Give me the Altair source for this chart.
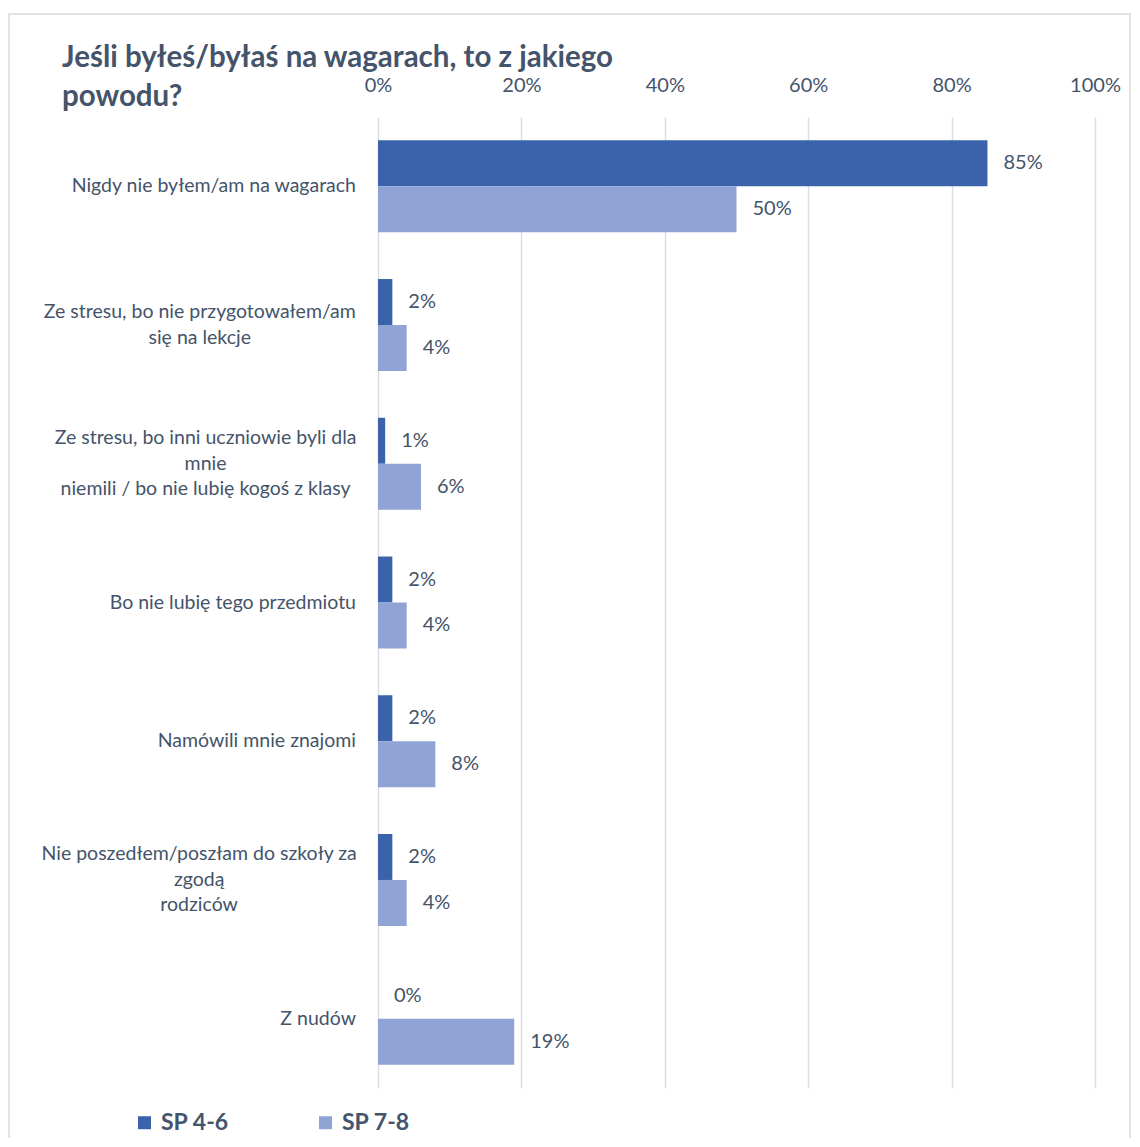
import altair as alt
import pandas as pd

categories = [
    "Nigdy nie byłem/am na wagarach",
    "Ze stresu, bo nie przygotowałem/am\nsię na lekcje",
    "Ze stresu, bo inni uczniowie byli dla\nmnie\nniemili / bo nie lubię kogoś z klasy",
    "Bo nie lubię tego przedmiotu",
    "Namówili mnie znajomi",
    "Nie poszedłem/poszłam do szkoły za\nzgodą\nrodziców",
    "Z nudów",
]
series = ["SP 4-6", "SP 7-8"]
sp46 = [85, 2, 1, 2, 2, 2, 0]
sp78 = [50, 4, 6, 4, 8, 4, 19]
ticks = [0, 20, 40, 60, 80, 100]
title_text = "Jeśli byłeś/byłaś na wagarach, to z jakiego\npowodu?"

colors = ["#3B63AB", "#8FA3D4"]
text_color = "#44546A"
FONT = "Lato"
LABEL_SIZE = 19.5
LINE_H = 25.5
LABEL_RIGHT = -22

# rough advance widths (em) of Lato Regular, used only to centre wrapped labels
_W = {" ": .193, "a": .49, "ą": .49, "b": .55, "c": .44, "d": .55, "e": .51, "ę": .51,
      "f": .32, "g": .49, "h": .55, "i": .24, "j": .24, "k": .50, "l": .24, "ł": .27,
      "m": .83, "n": .55, "o": .55, "ó": .55, "p": .55, "r": .36, "s": .41, "ś": .41,
      "t": .35, "u": .55, "w": .76, "y": .50, "z": .44, "/": .36, ",": .21, "Z": .60,
      "N": .73}


def est_width(s):
    return sum(_W.get(ch, .52) for ch in s) * LABEL_SIZE * 1.04


rows = []
for c, a, b in zip(categories, sp46, sp78):
    rows.append({"cat": c, "series": series[0], "value": a})
    rows.append({"cat": c, "series": series[1], "value": b})
df = pd.DataFrame(rows)

lab = pd.DataFrame({
    "cat": categories,
    "maxw": [max(est_width(s) for s in c.split("\n")) for c in categories],
    "nlines": [len(c.split("\n")) for c in categories],
})

yscale = alt.Scale(domain=categories, paddingInner=0.337, paddingOuter=0.168)
y = alt.Y("cat:N", sort=categories, scale=yscale, axis=None)
yoff = alt.YOffset("series:N", sort=series, scale=alt.Scale(domain=series, paddingInner=0, paddingOuter=0))
xscale = alt.Scale(domain=[0, 100], nice=False)

base = alt.Chart(df)

bars = base.mark_bar().encode(
    x=alt.X(
        "value:Q",
        scale=xscale,
        axis=alt.Axis(
            orient="top",
            values=ticks,
            labelExpr="datum.value + '%'",
            title=None,
            domain=False,
            ticks=False,
            grid=True,
            gridColor="#D9DEE8",
            gridWidth=1.5,
            labelFlush=False,
            labelFont=FONT,
            labelFontSize=20,
            labelColor=text_color,
            labelPadding=22,
        ),
    ),
    y=y,
    yOffset=yoff,
    color=alt.Color(
        "series:N",
        sort=series,
        scale=alt.Scale(domain=series, range=colors),
        legend=alt.Legend(
            title=None,
            orient="none",
            legendX=-245,
            legendY=994,
            direction="horizontal",
            symbolType="square",
            symbolSize=169,
            symbolStrokeWidth=0,
            labelFont=FONT,
            labelFontSize=23,
            labelFontWeight="bold",
            labelColor=text_color,
            labelOffset=5,
            columnPadding=85,
        ),
    ),
)

values = base.mark_text(
    align="left", baseline="middle", dx=16, font=FONT, fontSize=20, color=text_color
).encode(
    x=alt.X("value:Q", scale=xscale),
    y=y,
    yOffset=yoff,
    text=alt.Text("label:N"),
).transform_calculate(label="datum.value + '%'")

single = alt.Chart(lab).transform_filter("datum.nlines == 1").mark_text(
    align="right", baseline="middle", font=FONT, fontSize=LABEL_SIZE, color=text_color
).encode(
    x=alt.value(LABEL_RIGHT),
    y=y,
    text="cat:N",
)


def multi_layer(n):
    return alt.Chart(lab).transform_filter(f"datum.nlines == {n}").transform_calculate(
        cx=f"{LABEL_RIGHT} - datum.maxw / 2"
    ).mark_text(
        align="center", baseline="middle", font=FONT, fontSize=LABEL_SIZE, color=text_color,
        lineBreak="\n", lineHeight=LINE_H, dy=-(n - 1) * LINE_H / 2,
    ).encode(
        x=alt.X("cx:Q", scale=None),
        y=y,
        text="cat:N",
    )


title = alt.Chart(pd.DataFrame({"t": [title_text]})).mark_text(
    align="left", baseline="middle", font=FONT, fontSize=29.5, fontWeight="bold",
    color=text_color, lineBreak="\n", lineHeight=39,
).encode(
    x=alt.value(-316), y=alt.value(-59), text="t:N"
)

frame = alt.Chart(pd.DataFrame({"k": [0]})).mark_rect(
    fill=None, stroke="#D9D9D9", strokeWidth=1.5
).encode(
    x=alt.value(-369), x2=alt.value(752), y=alt.value(-103), y2=alt.value(1100)
)

chart = alt.layer(frame, bars, values, single, multi_layer(2), multi_layer(3), title).properties(
    width=717,
    height=971,
    autosize=alt.AutoSizeParams(type="none"),
    padding={"left": 370, "top": 109, "right": 36, "bottom": 50},
).configure_view(stroke=None)

chart.save("out.html", embed_options={"renderer": "svg", "actions": False})
